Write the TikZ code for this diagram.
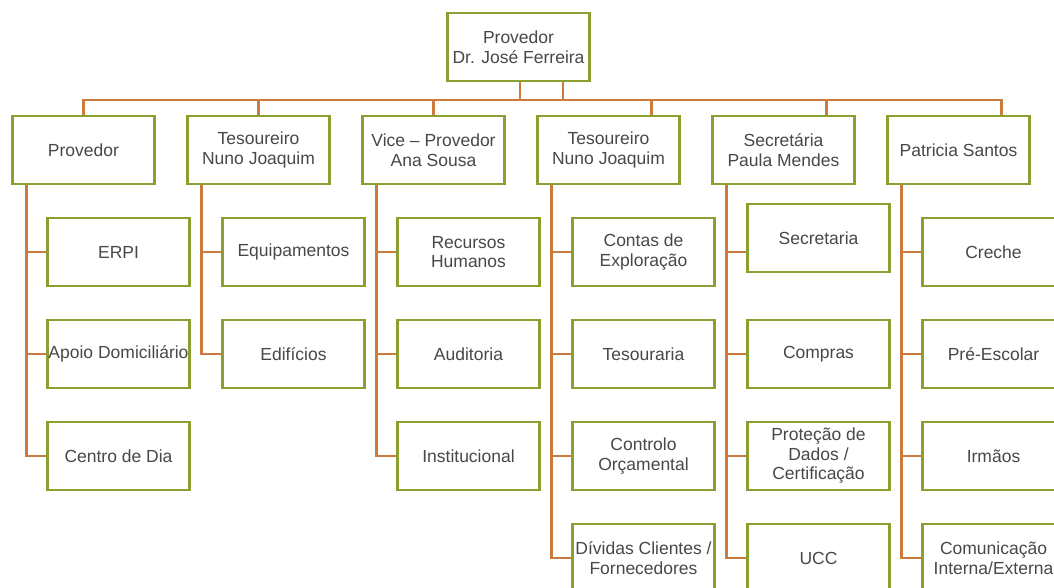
\documentclass[tikz,border=0pt]{standalone}
\usepackage{fontspec}
\setmainfont{Liberation Sans}
\usetikzlibrary{positioning}

\begin{document}
\begin{tikzpicture}[x=1pt, y=-1pt, every node/.style={align=center}]
    % cores
    \definecolor{boxline}{RGB}{138,160,48}   % verde das caixas
    \definecolor{linkline}{RGB}{205,122,62}  % laranja das ligações
    \definecolor{boxtext}{RGB}{72,72,72}     % cinzento do texto

    % estilos
    \tikzstyle{unit} = [rectangle, draw=boxline, line width=2.6pt, fill=white, minimum width=142pt, minimum height=68pt, inner sep=1pt, text=boxtext, font=\fontsize{17.5}{19.5}\selectfont]
    \tikzstyle{link} = [draw=linkline, line width=2.6pt]

    \useasboundingbox (0,0) rectangle (1054,588);
    \clip (0,0) rectangle (1054,588);

    % topo
    \node[unit] (top) at (518.5,47) {Provedor\\Dr. José Ferreira};

    % nível 1
    \node[unit] (prov) at (83.5,150) {Provedor};
    \node[unit, right=30.4pt of prov] (tes1) {Tesoureiro\\Nuno Joaquim};
    \node[unit, right=30.4pt of tes1] (vice) {Vice – Provedor\\Ana Sousa};
    \node[unit, right=30.4pt of vice] (tes2) {Tesoureiro\\Nuno Joaquim};
    \node[unit, right=30.4pt of tes2] (sec) {Secretária\\Paula Mendes};
    \node[unit, right=30.4pt of sec] (pat) {Patricia Santos};

    % Provedor
    \node[unit, below right=31.4pt and 35pt of prov.south west] (erpi) {ERPI};
    \node[unit, below=31.4pt of erpi] (apoio) {Apoio Domiciliário};
    \node[unit, below=31.4pt of apoio] (centro) {Centro de Dia};

    % Tesoureiro
    \node[unit, below right=31.4pt and 35pt of tes1.south west] (equip) {Equipamentos};
    \node[unit, below=31.4pt of equip] (edif) {Edifícios};

    % Vice - Provedor
    \node[unit, below right=31.4pt and 35pt of vice.south west] (rh) {Recursos\\Humanos};
    \node[unit, below=31.4pt of rh] (audit) {Auditoria};
    \node[unit, below=31.4pt of audit] (inst) {Institucional};

    % Tesoureiro
    \node[unit, below right=31.4pt and 35pt of tes2.south west] (contas) {Contas de\\Exploração};
    \node[unit, below=31.4pt of contas] (tesour) {Tesouraria};
    \node[unit, below=31.4pt of tesour] (orcam) {Controlo\\Orçamental};
    \node[unit, below=31.4pt of orcam] (dividas) {Dívidas Clientes /\\Fornecedores};

    % Secretária
    \node[unit, below right=17.4pt and 35pt of sec.south west] (secret) {Secretaria};
    \node[unit, below=45.4pt of secret] (compras) {Compras};
    \node[unit, below=31.4pt of compras] (rgpd) {Proteção de\\Dados /\\Certificação};
    \node[unit, below=31.4pt of rgpd] (ucc) {UCC};

    % Patricia Santos
    \node[unit, below right=31.4pt and 35pt of pat.south west] (creche) {Creche};
    \node[unit, below=31.4pt of creche] (pre) {Pré-Escolar};
    \node[unit, below=31.4pt of pre] (irmaos) {Irmãos};
    \node[unit, below=31.4pt of irmaos] (comun) {Comunicação\\Interna/Externa};

    % barra horizontal
    \coordinate (bus) at (0,100);
    \coordinate (t1) at ([xshift=1.5pt]top.south);
    \coordinate (t2) at ([xshift=44.5pt]top.south);
    \coordinate (d4) at ([xshift=43pt]tes2.north);
    \coordinate (d5) at ([xshift=43pt]sec.north);
    \coordinate (d6) at ([xshift=43pt]pat.north);
    \draw[link] (prov.north) |- (bus -| d6) -- (d6);
    \draw[link] (t1) -- (t1 |- bus);
    \draw[link] (t2) -- (t2 |- bus);
    \draw[link] (tes1.north) -- (tes1.north |- bus);
    \draw[link] (vice.north) -- (vice.north |- bus);
    \draw[link] (d4) -- (d4 |- bus);
    \draw[link] (d5) -- (d5 |- bus);

    % ligações verticais
    \coordinate (v1) at ([xshift=15pt]prov.south west);
    \coordinate (v2) at ([xshift=15pt]tes1.south west);
    \coordinate (v3) at ([xshift=15pt]vice.south west);
    \coordinate (v4) at ([xshift=15pt]tes2.south west);
    \coordinate (v5) at ([xshift=15pt]sec.south west);
    \coordinate (v6) at ([xshift=15pt]pat.south west);

    \draw[link] (v1) |- (centro.west);
    \draw[link] (v1 |- erpi.west) -- (erpi.west);
    \draw[link] (v1 |- apoio.west) -- (apoio.west);

    \draw[link] (v2) |- (edif.west);
    \draw[link] (v2 |- equip.west) -- (equip.west);

    \draw[link] (v3) |- (inst.west);
    \draw[link] (v3 |- rh.west) -- (rh.west);
    \draw[link] (v3 |- audit.west) -- (audit.west);

    \draw[link] (v4) |- (dividas.west);
    \draw[link] (v4 |- contas.west) -- (contas.west);
    \draw[link] (v4 |- tesour.west) -- (tesour.west);
    \draw[link] (v4 |- orcam.west) -- (orcam.west);

    \draw[link] (v5) |- (ucc.west);
    \draw[link] (v5 |- creche.west) -- (secret.west |- creche.west);
    \draw[link] (v5 |- compras.west) -- (compras.west);
    \draw[link] (v5 |- rgpd.west) -- (rgpd.west);

    \draw[link] (v6) |- (comun.west);
    \draw[link] (v6 |- creche.west) -- (creche.west);
    \draw[link] (v6 |- pre.west) -- (pre.west);
    \draw[link] (v6 |- irmaos.west) -- (irmaos.west);
\end{tikzpicture}
\end{document}
